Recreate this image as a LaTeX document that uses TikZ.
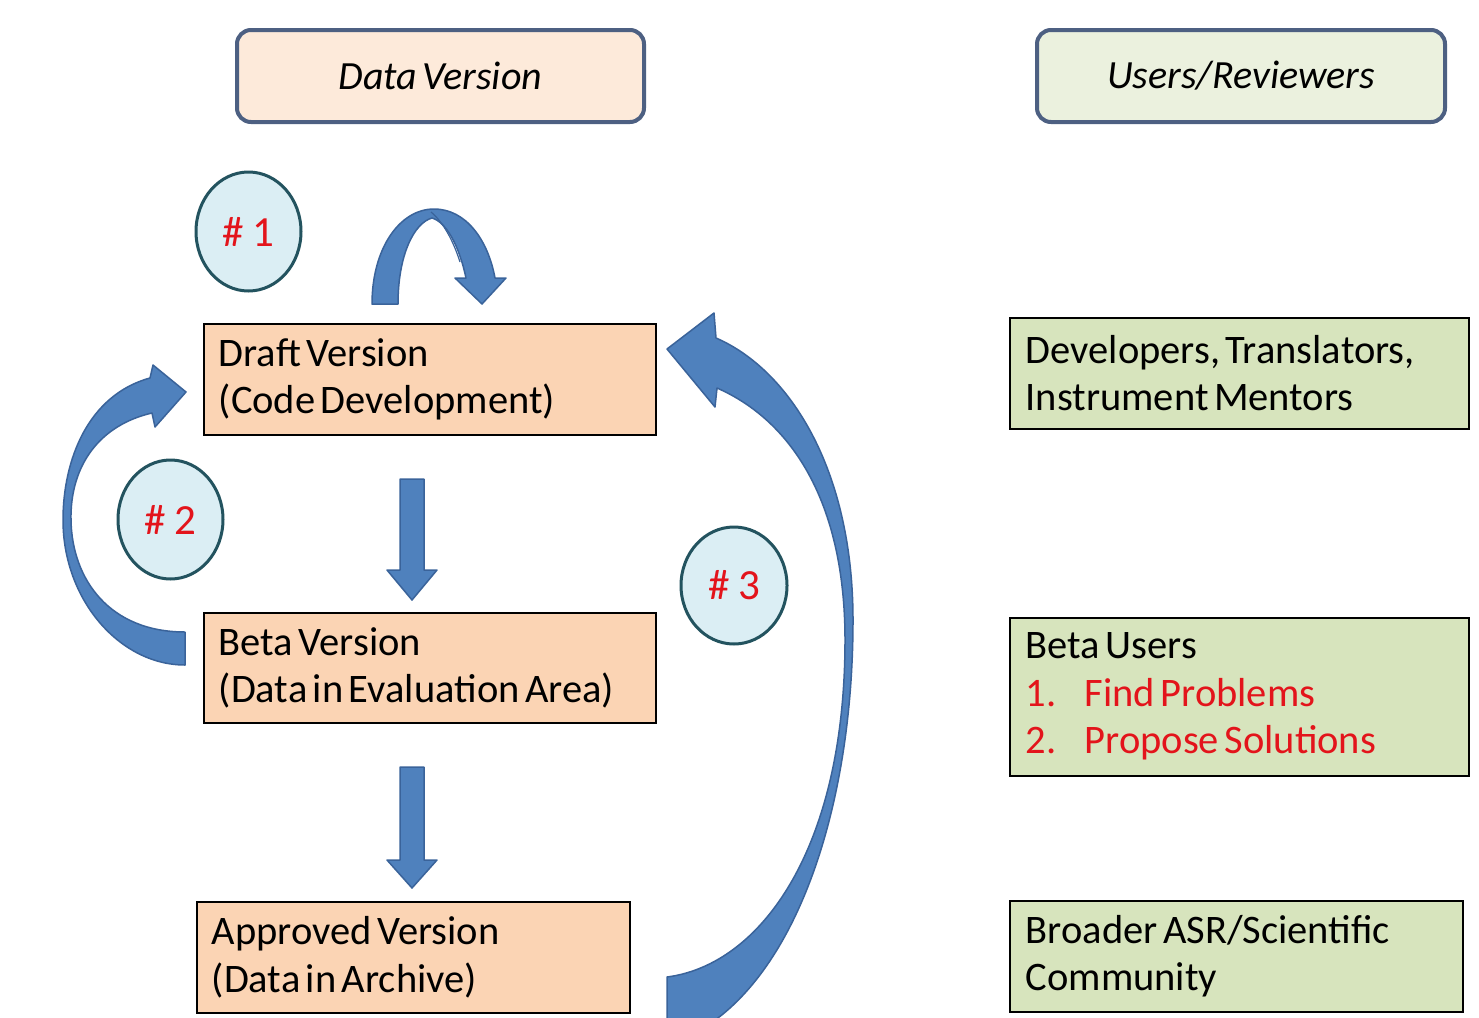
\documentclass[tikz,border=0pt]{standalone}
\usepackage{fontspec}
\setmainfont{Carlito}[WordSpace=0.6]
\usetikzlibrary{shapes.geometric}
\definecolor{arrfill}{HTML}{4F81BD}
\definecolor{arrline}{HTML}{3A639A}
\definecolor{peach}{HTML}{FBD4B4}
\definecolor{lgreen}{HTML}{D7E4BD}
\definecolor{hdrpeach}{HTML}{FDEADA}
\definecolor{hdrgreen}{HTML}{EBF1DE}
\definecolor{hdrline}{HTML}{4D6082}
\definecolor{circfill}{HTML}{DBEEF4}
\definecolor{circline}{HTML}{23535F}
\definecolor{txtred}{HTML}{E3141B}
\newcommand{\boxtext}[2]{\parbox{#1}{\raggedright #2}}
\begin{document}
\begin{tikzpicture}[x=1pt,y=-1pt,
  every node/.style={font=\fontsize{40.5}{47.5}\selectfont},
  hdrbox/.style={draw=hdrline, line width=4pt, rounded corners=14pt, anchor=north west,
    minimum height=92pt, inner sep=0pt, font=\fontsize{40}{47.5}\selectfont\itshape},
  verbox/.style={draw=black, line width=1.5pt, fill=peach, anchor=north west,
    inner xsep=15pt, inner ysep=0pt},
  userbox/.style={draw=black, line width=1.5pt, fill=lgreen, anchor=north west,
    inner xsep=16pt, inner ysep=0pt},
  stepcirc/.style={ellipse, draw=circline, line width=3pt, fill=circfill, inner sep=0pt,
    text=txtred, font=\fontsize{43}{47.5}\selectfont},
  blockarr/.style={fill=arrfill, draw=arrline, line width=1.5pt, line join=round}
]
\useasboundingbox (0,0) rectangle (1479,1017);
\fill[white] (0,0) rectangle (1479,1017);

% headers
\node[hdrbox, fill=hdrpeach, minimum width=407pt] (hdata) at (235,28) {Data Version};
\node[hdrbox, fill=hdrgreen, minimum width=408pt] (husers) at (1035,28) {Users/Reviewers};

% version boxes
\node[verbox, minimum height=111pt] (draft) at (203,323)
  {\boxtext{422pt}{Draft Version\\(Code Development)}};
\node[verbox, minimum height=110pt] (beta) at (203,612)
  {\boxtext{422pt}{Beta Version\\(Data in Evaluation Area)}};
\node[verbox, minimum height=111pt] (approved) at (196,901)
  {\boxtext{403pt}{Approved Version\\(Data in Archive)}};

% user boxes
\node[userbox, minimum height=111pt] (devs) at (1009,317)
  {\boxtext{427pt}{Developers, Translators,\\Instrument Mentors}};
\node[userbox, minimum height=158pt] (betausers) at (1009,617)
  {\boxtext{427pt}{Beta Users\\\textcolor{txtred}{\makebox[59pt][l]{1.}Find Problems}\\\textcolor{txtred}{\makebox[59pt][l]{2.}Propose Solutions}}};
\node[userbox, minimum height=111pt] (broader) at (1009,900)
  {\boxtext{421pt}{Broader ASR/Scientific\\Community}};

% step circles
\node[stepcirc, minimum width=105pt, minimum height=119pt] (c1) at (248.5,231.5) {\#\hspace{0.2em}1};
\node[stepcirc, minimum width=105pt, minimum height=119pt] (c2) at (170.5,519.5) {\#\hspace{0.2em}2};
\node[stepcirc, minimum width=106pt, minimum height=117pt] (c3) at (734,585.5) {\#\hspace{0.2em}3};

% straight down arrows
\draw[blockarr] (400,479) -- (424,479) -- (424,570) -- (437,570) -- (412,600) -- (387,570) -- (400,570) -- cycle;
\draw[blockarr] (400,767) -- (424,767) -- (424,860) -- (437,860) -- (412,888) -- (387,860) -- (400,860) -- cycle;

% arrow #1 (self loop on draft)
\draw[blockarr] (372,304) .. controls (372,248) and (400,209) .. (434,209)
  .. controls (466,209) and (488,240) .. (495,278) -- (506,278) -- (482,304) -- (455,278) -- (466,278)
  .. controls (459,245) and (446,222) .. (432,218)
  .. controls (414,223) and (398,255) .. (398,304) -- cycle;
\draw[arrline, line width=1.2pt] (431,212) .. controls (443,222) and (453,240) .. (460,262);

% arrow #2 (beta back to draft)
\draw[blockarr] (185,632) .. controls (110,632) and (72,580) .. (71,520)
  .. controls (70,465) and (100,425) .. (152,413) -- (155,427) -- (186,392) -- (153,365) -- (150,378)
  .. controls (88,395) and (63,460) .. (63,520)
  .. controls (63,600) and (120,665) .. (185,665) -- cycle;

% arrow #3 (approved back to draft)
\draw[blockarr] (667,977) .. controls (760,965) and (845,850) .. (845,640)
  .. controls (845,500) and (790,420) .. (717,388) -- (715,407) -- (667,349) -- (714,313) -- (716,338)
  .. controls (790,370) and (853,470) .. (853,620)
  .. controls (853,810) and (795,975) .. (700,1030) -- (667,1030) -- cycle;
\end{tikzpicture}
\end{document}
